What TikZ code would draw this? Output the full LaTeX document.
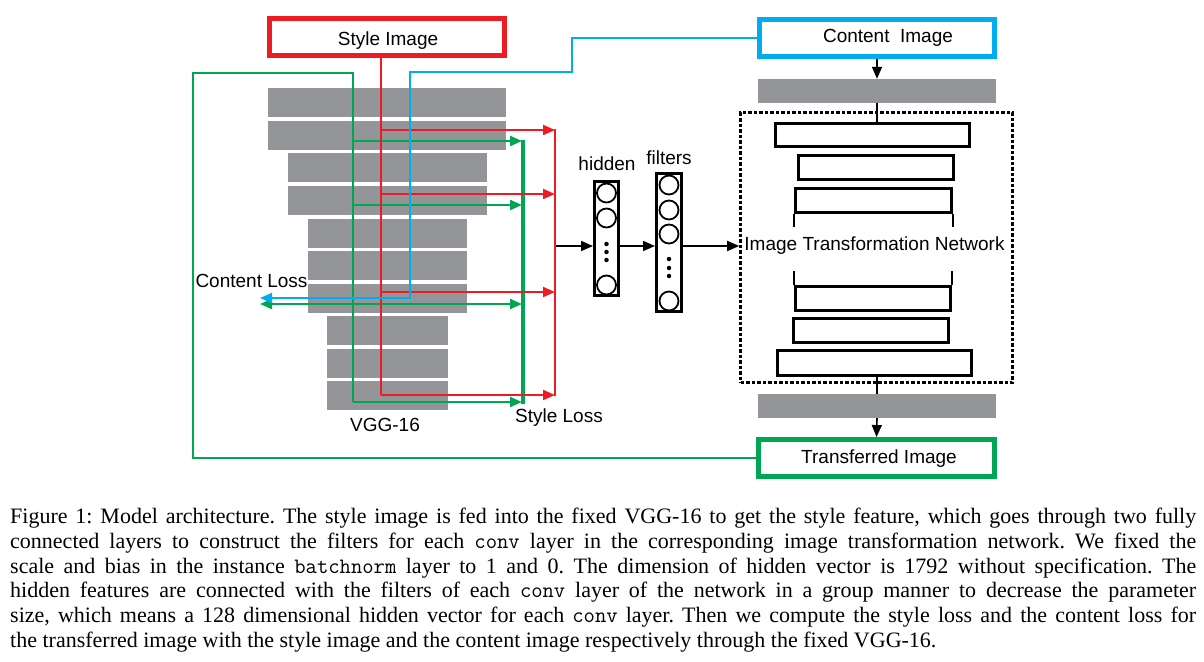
\documentclass[tikz,border=0pt]{standalone}
\usepackage{fontspec}
\setmainfont{Liberation Serif}
\setsansfont{Liberation Sans}
\usetikzlibrary{arrows.meta}
\definecolor{sred}{RGB}{237,28,36}
\definecolor{sgreen}{RGB}{0,166,81}
\definecolor{sblue}{RGB}{0,174,239}
\definecolor{vgray}{RGB}{147,149,152}
\frenchspacing
\begin{document}
\begin{tikzpicture}[x=1pt,y=-1pt,
  every node/.style={font=\sffamily\fontsize{19}{22}\selectfont},
  imgbox/.style={draw=#1, line width=5pt, minimum width=235pt, minimum height=37pt, inner sep=0pt},
  vbar/.style={fill=vgray, inner sep=0pt, minimum height=29pt},
  wbox/.style={draw=black, line width=2.6pt, inner sep=0pt, minimum height=24pt},
  tip/.style={-{Triangle[length=12pt,width=10pt]}},
  redln/.style={draw=sred, line width=2pt},
  greenln/.style={draw=sgreen, line width=2.2pt},
  blueln/.style={draw=sblue, line width=2pt},
  vec/.style={draw, line width=3pt, inner sep=0pt, minimum width=24pt},
  unit/.style={circle, draw, line width=1.8pt, minimum size=19pt, inner sep=0pt},
  dot/.style={circle, fill, inner sep=0pt, minimum size=4.5pt},
  capline/.style={anchor=base west, inner sep=0pt, font=\rmfamily\fontsize{22}{24.8}\selectfont}]
\useasboundingbox (0,0) rectangle (1204,661);

% VGG-16 bars
\node[vbar, minimum width=238pt] (v1) at (387,102.5) {};
\node[vbar, minimum width=238pt] (v2) at (387,135) {};
\node[vbar, minimum width=199pt] (v3) at (387.5,167.5) {};
\node[vbar, minimum width=199pt] (v4) at (387.5,200.5) {};
\node[vbar, minimum width=159pt] (v5) at (387.5,233) {};
\node[vbar, minimum width=159pt] (v6) at (387.5,265.5) {};
\node[vbar, minimum width=159pt] (v7) at (387.5,298.5) {};
\node[vbar, minimum width=121pt] (v8) at (387.5,330.5) {};
\node[vbar, minimum width=121pt] (v9) at (387.5,363.5) {};
\node[vbar, minimum width=121pt] (v10) at (387.5,395.5) {};
\node (vgglbl) at (385,424.5) {VGG-16};

% image boxes
\node[imgbox=sred] (style) at (387,37.5) {};
\node (styletxt) at (388,41) {Style Image};
\node[imgbox=sblue] (content) at (877,38) {};
\node (contenttxt) at (888,37.4) {Content~~Image};
\node[imgbox=sgreen, minimum width=236pt] (trans) at (876.5,458) {};
\node (transtxt) at (879,459) {Transferred Image};

% green connections
\draw[greenln] (trans.west) -- (193,458) -- (193,73) -- (353,73) -- (353,402);
\draw[sgreen, line width=4pt] (523,139.5) -- (523,403.5);
\foreach \y in {141,205,402} \draw[greenln, tip] (353,\y) -- (522,\y);
\draw[greenln, {Triangle[length=12pt,width=10pt]}-{Triangle[length=12pt,width=10pt]}] (260,304) -- (522,304);

% red connections
\coordinate (rx) at (381,0);
\draw[redln] (style.south -| rx) -- (381,395);
\draw[redln] (555,129) -- (555,396);
\foreach \y in {130,194,292,395} \draw[redln, tip] (381,\y) -- (555,\y);

% blue connection
\draw[blueln, tip] (content.west) -| (572,72) -- (410,72) -- (410,298) -- (260,298);

\node (closs) at (251.5,280.5) {Content Loss};
\node (sloss) at (559,418) {Style Loss};

% hidden and filters
\node[vec, minimum height=114pt] (hid) at (606.5,238.5) {};
\node[unit] (h1) at (606.5,193) {};
\node[unit] (h2) at (606.5,218) {};
\node[unit] (h3) at (606.5,285) {};
\node[dot] (hd1) at (606.5,244) {};
\node[dot] (hd2) at (606.5,252) {};
\node[dot] (hd3) at (606.5,260) {};
\node (hidlbl) at (607,164) {hidden};

\node[vec, minimum width=25pt, minimum height=138pt] (fil) at (669,242.5) {};
\node[unit] (f1) at (669,185) {};
\node[unit] (f2) at (669,210) {};
\node[unit] (f3) at (669,234) {};
\node[unit] (f4) at (669,301) {};
\node[dot] (fd1) at (669,259) {};
\node[dot] (fd2) at (669,268) {};
\node[dot] (fd3) at (669,276) {};
\node (fillbl) at (669,157.5) {filters};

% image transformation network
\node[vbar, minimum width=238pt, minimum height=24pt] (g1) at (877,91) {};
\node[vbar, minimum width=238pt, minimum height=24pt] (g2) at (877,406) {};
\node[draw, dash pattern=on 3.5pt off 2pt, line width=2.6pt, minimum width=272pt, minimum height=270pt, inner sep=0pt] (itn) at (876.5,247.5) {};
\node (itntxt) at (874.5,246) {Image Transformation Network};
\node[wbox, minimum width=194pt, minimum height=23pt] (w1) at (872.5,135) {};
\node[wbox, minimum width=155pt] (w2) at (876,167.5) {};
\node[wbox, minimum width=156pt] (w3) at (873.5,200.5) {};
\node[wbox, minimum width=155pt] (w4) at (873,298.5) {};
\node[wbox, minimum width=155pt] (w5) at (871,330.5) {};
\node[wbox, minimum width=194pt, minimum height=25pt] (w6) at (874.5,363) {};
\draw[line width=1.5pt] (w3.south west) -- ++(0,13);
\draw[line width=1.5pt] (w3.south east) -- ++(0,13);
\draw[line width=1.5pt] (w4.north west) -- ++(0,-14);
\draw[line width=1.5pt] (w4.north east) -- ++(0,-14);

\draw[line width=1.6pt, tip] (content.south) -- (g1.north);
\draw[line width=1.5pt] (g1.south) -- (g1.south |- w1.north);
\draw[line width=1.5pt] (g2.north |- w6.south) -- (g2.north);
\draw[line width=1.6pt, tip] (g2.south) -- (trans.north);

\coordinate (ay) at (0,246);
\draw[line width=1.8pt, tip] (556,246) -- (hid.west |- ay);
\draw[line width=1.8pt, tip] (hid.east |- ay) -- (fil.west |- ay);
\draw[line width=1.8pt, tip] (fil.east |- ay) -- (itn.west |- ay);

% caption
\node[capline] (c1) at (10,523.5) {\hbox to 1186pt{Figure 1: Model architecture. The style image is fed into the fixed VGG-16 to get the style feature, which goes through two fully}};
\node[capline] (c2) at (10,548.3) {\hbox to 1186pt{connected layers to construct the filters for each \texttt{conv} layer in the corresponding image transformation network. We fixed the}};
\node[capline] (c3) at (10,573.1) {\hbox to 1186pt{scale and bias in the instance \texttt{batchnorm} layer to 1 and 0. The dimension of hidden vector is 1792 without specification. The}};
\node[capline] (c4) at (10,597.9) {\hbox to 1186pt{hidden features are connected with the filters of each \texttt{conv} layer of the network in a group manner to decrease the parameter}};
\node[capline] (c5) at (10,622.7) {\hbox to 1186pt{size, which means a 128 dimensional hidden vector for each \texttt{conv} layer. Then we compute the style loss and the content loss for}};
\node[capline] (c6) at (10,647.5) {the transferred image with the style image and the content image respectively through the fixed VGG-16.};
\end{tikzpicture}
\end{document}
